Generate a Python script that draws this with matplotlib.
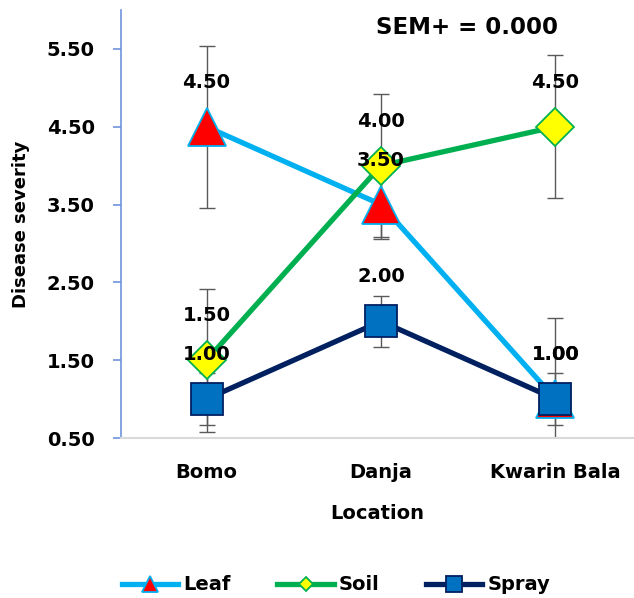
import matplotlib
matplotlib.use("Agg")
import matplotlib.pyplot as plt
from matplotlib.lines import Line2D

locations = ["Bomo", "Danja", "Kwarin Bala"]
leaf = [4.5, 3.5, 1.0]
soil = [1.5, 4.0, 4.5]
spray = [1.0, 2.0, 1.0]
leaf_err = [1.04, 0.44, 1.04]
soil_err = [0.92, 0.92, 0.92]
spray_err = [0.33, 0.33, 0.33]
yticks = [0.5, 1.5, 2.5, 3.5, 4.5, 5.5]

plt.rcParams['font.family'] = ['DejaVu Sans']
plt.rcParams['font.weight'] = 'bold'

fig = plt.figure(figsize=(6.34, 5.98), dpi=100)
ax = fig.add_axes([121/634, 160/598, 1 - 121/634, 428/598])

x = list(range(len(locations)))
series = [
    ("Leaf", leaf, leaf_err, "#00B0F0", "^", "#FF0000", "#00B0F0", 28, 12),
    ("Soil", soil, soil_err, "#00B050", "D", "#FFFF00", "#00B050", 19, 7.5),
    ("Spray", spray, spray_err, "#002060", "s", "#0070C0", "#002060", 23, 12),
]
handles = []
for i, (name, vals, errs, lc, mk, mfc, mec, ms, lms) in enumerate(series):
    ax.errorbar(x, vals, yerr=errs, fmt="none", ecolor="#595959", elinewidth=1.0,
                capsize=6, capthick=1.0, zorder=2 + i * 0.1)
    ax.plot(x, vals, color=lc, lw=3.8, marker=mk, markersize=ms,
            markerfacecolor=mfc, markeredgecolor=mec, markeredgewidth=1.3,
            zorder=3 + i, clip_on=False)
    handles.append(Line2D([0], [0], color=lc, lw=3.8, marker=mk, markersize=lms,
                          markerfacecolor=mfc, markeredgecolor=mec,
                          markeredgewidth=1.3, label=name))
    for xi, v in zip(x, vals):
        ax.annotate(f"{v:.2f}", (xi, v), xytext=(0, 32), textcoords="offset points",
                    ha="center", va="center", fontsize=14, fontweight="bold",
                    zorder=10, annotation_clip=False)

ax.set_xlim(-0.49, 2.45)
ax.set_ylim(0.5, 6.0)
ax.set_yticks(yticks)
ax.set_yticklabels([f"{t:.2f}" for t in yticks], fontsize=14, fontweight="bold")
ax.set_xticks(x)
ax.set_xticklabels(locations, fontsize=14, fontweight="bold")
ax.tick_params(axis="x", length=0, pad=18)
ax.tick_params(axis="y", length=6, color="#6E93DC", width=1.2, pad=13, direction="out")

for s in ["top", "right"]:
    ax.spines[s].set_visible(False)
ax.spines["left"].set_color("#6E93DC")
ax.spines["left"].set_linewidth(1.2)
ax.spines["bottom"].set_color("#D9D9D9")
ax.spines["bottom"].set_linewidth(1.5)

ax.set_xlabel("Location", fontsize=14, fontweight="bold", labelpad=16)
ax.set_ylabel("Disease severity", fontsize=13, fontweight="bold", labelpad=12)

ax.text(467/634, 1 - 28/598, "SEM+ = 0.000", transform=fig.transFigure,
        ha="center", va="center", fontsize=16.5, fontweight="bold")

fig.legend(handles=handles, loc="center", bbox_to_anchor=(336/634, 13/598), ncol=3,
           frameon=False, handlelength=2.9, columnspacing=2.4,
           handletextpad=0.25, prop={"weight": "bold", "size": 14})

fig.savefig("out.png", dpi=100)
